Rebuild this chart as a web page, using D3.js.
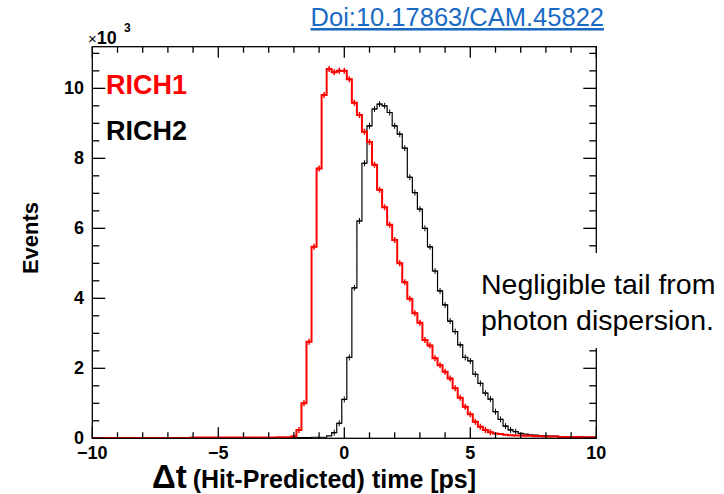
<!DOCTYPE html>
<html>
<head>
<meta charset="utf-8">
<script src="https://cdn.jsdelivr.net/npm/d3@7"></script>
<style>
  body { margin: 0; background: #fff; }
  text { font-family: "Liberation Sans", Arial, Helvetica, sans-serif; }
</style>
</head>
<body>
<div id="vis"></div>
<script>
// bins: 0.2 ps wide, centred on -10, -9.8, ... , 10 (counts in units of 10^3)
var binStart = -10.1,
    binWidth = 0.2;

var rich1 = [
  0.01,0.01,0.01,0.01,0.01,0.01,0.01,0.01,0.01,0.01,
  0.01,0.01,0.01,0.01,0.01,0.01,0.01,0.01,0.01,0.01,
  0.02,0.02,0.02,0.02,0.02,0.02,0.02,0.02,0.02,0.02,
  0.02,0.02,0.02,0.02,0.02,0.02,0.02,0.03,0.03,0.03,
  0.06,0.24,1.00,2.76,5.47,7.71,9.81,10.55,10.46,10.50,
  10.50,10.26,9.59,9.24,8.76,8.47,7.82,7.10,6.60,6.10,
  5.67,5.00,4.46,3.99,3.57,3.30,2.81,2.65,2.29,2.09,
  1.90,1.71,1.43,1.16,0.90,0.69,0.47,0.33,0.24,0.17,
  0.14,0.12,0.10,0.09,0.08,0.08,0.07,0.07,0.06,0.06,
  0.05,0.05,0.05,0.04,0.04,0.04,0.04,0.03,0.03,0.03,
  0.03
];

var rich2 = [
  0.01,0.01,0.01,0.01,0.01,0.01,0.01,0.01,0.01,0.01,
  0.01,0.01,0.01,0.01,0.01,0.01,0.01,0.01,0.01,0.01,
  0.01,0.01,0.01,0.01,0.01,0.01,0.01,0.01,0.01,0.01,
  0.01,0.01,0.01,0.02,0.02,0.02,0.02,0.02,0.02,0.02,
  0.02,0.02,0.02,0.02,0.03,0.03,0.03,0.07,0.16,0.43,
  1.11,2.31,4.30,6.21,7.86,8.93,9.41,9.55,9.50,9.31,
  8.93,8.69,8.29,7.46,7.02,6.55,6.00,5.47,4.78,4.21,
  3.81,3.35,3.05,2.67,2.31,2.21,1.83,1.57,1.29,1.12,
  0.76,0.54,0.35,0.24,0.19,0.14,0.12,0.10,0.09,0.08,
  0.07,0.06,0.06,0.05,0.05,0.05,0.04,0.04,0.03,0.03,
  0.03
];

var xTicks = [-10, -5, 0, 5, 10];
var yTicks = [0, 2, 4, 6, 8, 10];
var series = [
  {name: "RICH2", values: rich2, color: "#000000", width: 1.2},
  {name: "RICH1", values: rich1, color: "#ff0000", width: 2}
];

// layout (frame corners in px)
var W = 724, H = 494;
var fL = 92.3, fR = 596.3, fT = 46.7, fB = 438.3;

var svg = d3.select("#vis")
  .append("svg")
  .attr("width", W)
  .attr("height", H);

var x = d3.scaleLinear().domain([-10, 10]).range([fL, fR]);
var y = d3.scaleLinear().domain([0, 11.19]).range([fB, fT]);

svg.append("clipPath").attr("id", "frame")
  .append("rect")
  .attr("x", fL).attr("y", fT)
  .attr("width", fR - fL).attr("height", fB - fT);

var plot = svg.append("g").attr("clip-path", "url(#frame)");

var line = d3.line()
  .x(function(d) { return x(d[0]); })
  .y(function(d) { return y(d[1]); });

series.forEach(function(s) {
  var pts = [];
  s.values.forEach(function(v, i) {
    var lo = binStart + i * binWidth;
    pts.push([lo, v], [lo + binWidth, v]);
  });
  plot.append("path")
    .attr("d", line(pts))
    .attr("fill", "none")
    .attr("stroke", s.color)
    .attr("stroke-width", s.width);

  // small error-bar crosses at bin centres
  var marks = plot.append("g")
    .attr("stroke", s.color)
    .attr("stroke-width", s.width > 1.5 ? 1.5 : 1);
  s.values.forEach(function(v, i) {
    if (v < 0.15) return;
    var cx = x(binStart + (i + 0.5) * binWidth), cy = y(v);
    marks.append("line").attr("x1", cx).attr("x2", cx).attr("y1", cy - 3).attr("y2", cy + 3);
    marks.append("line").attr("x1", cx - 2.5).attr("x2", cx + 2.5).attr("y1", cy).attr("y2", cy);
  });
});

// frame + ticks on all four sides, pointing inwards
var axes = svg.append("g").attr("stroke", "#000").attr("stroke-width", 1.3);
axes.append("rect")
  .attr("x", fL).attr("y", fT)
  .attr("width", fR - fL).attr("height", fB - fT)
  .attr("fill", "none");

var xMinor = d3.range(-10, 10.5, 1);
xMinor.forEach(function(t) {
  var len = (t % 5 === 0) ? 11 : 6;
  axes.append("line").attr("x1", x(t)).attr("x2", x(t)).attr("y1", fB).attr("y2", fB - len);
  axes.append("line").attr("x1", x(t)).attr("x2", x(t)).attr("y1", fT).attr("y2", fT + len);
});
var yMinor = d3.range(0, 11.01, 0.5);
yMinor.forEach(function(t) {
  var len = (t % 2 === 0) ? 13 : 7;
  axes.append("line").attr("x1", fL).attr("x2", fL + len).attr("y1", y(t)).attr("y2", y(t));
  axes.append("line").attr("x1", fR).attr("x2", fR - len).attr("y1", y(t)).attr("y2", y(t));
});

// tick labels
svg.append("g").selectAll("text")
  .data(xTicks).enter().append("text")
  .attr("x", function(d) { return x(d); })
  .attr("y", 459)
  .attr("text-anchor", "middle")
  .attr("font-size", 18).attr("font-weight", "bold")
  .text(function(d) { return d < 0 ? "\u2212" + (-d) : d; });

svg.append("g").selectAll("text")
  .data(yTicks).enter().append("text")
  .attr("x", 84)
  .attr("y", function(d) { return y(d) + 6; })
  .attr("text-anchor", "end")
  .attr("font-size", 18).attr("font-weight", "bold")
  .text(function(d) { return d; });

// x10^3
var mult = svg.append("text").attr("x", 88).attr("y", 44);
mult.append("tspan").attr("font-size", 15).text("\u00d7");
mult.append("tspan").attr("font-size", 18).attr("font-weight", "bold").text("10");
svg.append("text").attr("x", 124).attr("y", 32).attr("font-size", 12).attr("font-weight", "bold").text("3");

// axis titles
var xt = svg.append("text").attr("x", 152).attr("y", 488).attr("font-weight", "bold");
xt.append("tspan").attr("font-size", 33).text("\u0394t");
xt.append("tspan").attr("font-size", 25).attr("dx", 6).text("(Hit-Predicted) time [ps]");

svg.append("text")
  .attr("transform", "translate(38,238) rotate(-90)")
  .attr("text-anchor", "middle")
  .attr("font-size", 22).attr("font-weight", "bold")
  .text("Events");

// legend labels
svg.append("text").attr("x", 106).attr("y", 94)
  .attr("font-size", 27).attr("font-weight", "bold").attr("fill", "#ff0000").text("RICH1");
svg.append("text").attr("x", 106).attr("y", 140)
  .attr("font-size", 27).attr("font-weight", "bold").attr("fill", "#000").text("RICH2");

// annotation on a white box that hides the frame behind it
svg.append("rect").attr("x", 476).attr("y", 253).attr("width", W - 476).attr("height", 95).attr("fill", "#fff");
svg.append("text").attr("x", 481).attr("y", 294).attr("font-size", 28.5).text("Negligible tail from");
svg.append("text").attr("x", 481).attr("y", 330).attr("font-size", 28.5).text("photon dispersion.");

// doi link
svg.append("text").attr("x", 604).attr("y", 26)
  .attr("text-anchor", "end")
  .attr("font-size", 25.5).attr("fill", "#1a6ac4")
  .attr("text-decoration", "underline")
  .text("Doi:10.17863/CAM.45822");
</script>
</body>
</html>
